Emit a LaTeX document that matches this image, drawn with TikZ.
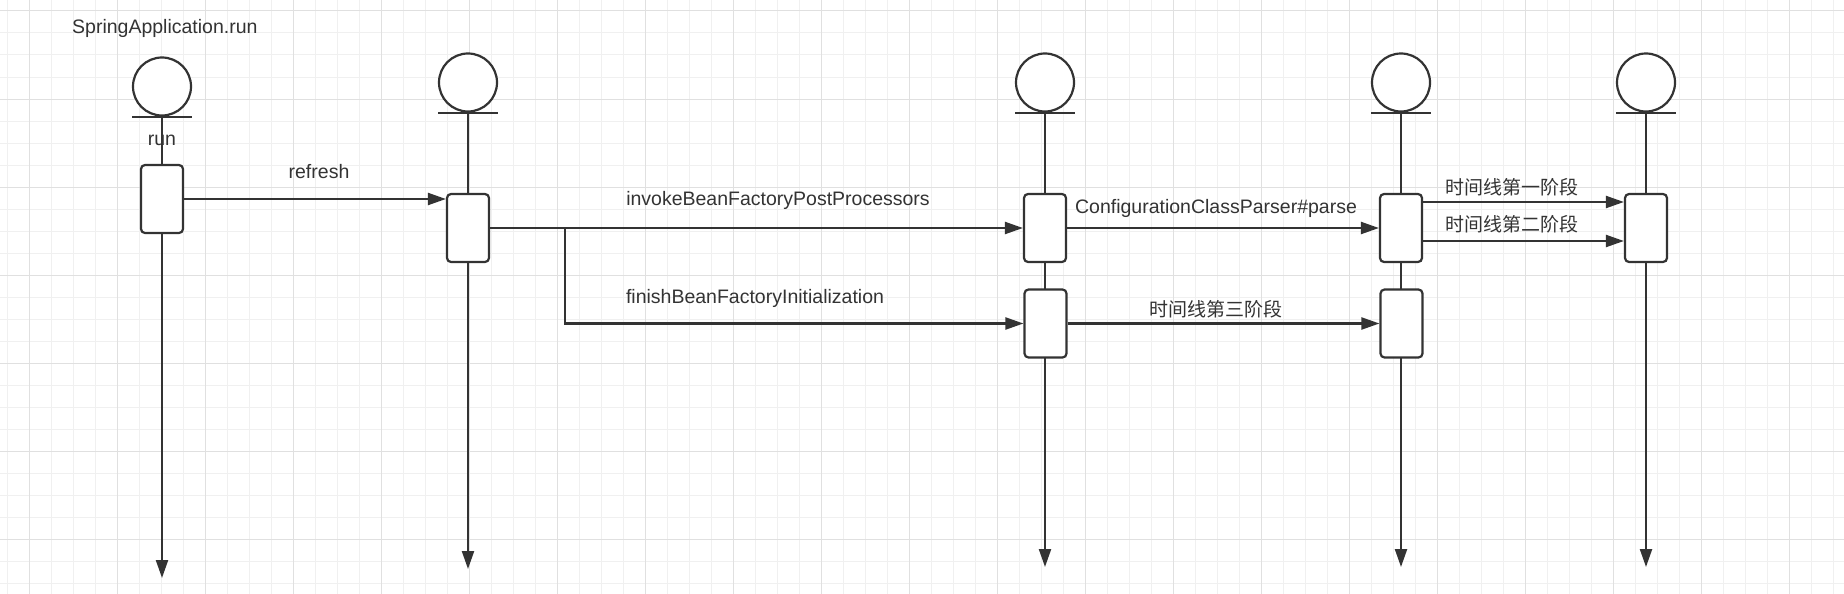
\documentclass[tikz,border=0pt]{standalone}
\usepackage{fontspec}
\setmainfont{Liberation Sans}
\newfontfamily\cjk{Noto Sans CJK SC}
\usetikzlibrary{arrows.meta,calc}
\definecolor{ink}{HTML}{333333}
\definecolor{gridminor}{HTML}{F0F0F0}
\definecolor{gridmajor}{HTML}{E0E0E0}
\begin{document}
\begin{tikzpicture}[x=1pt,y=-1pt,
  actor/.style={circle, draw=ink, line width=2.2pt, fill=white, minimum size=58pt, inner sep=0pt},
  actbox/.style={rectangle, rounded corners=4pt, draw=ink, line width=2.2pt, fill=white, minimum width=42pt, minimum height=68pt, inner sep=0pt},
  msg/.style={draw=ink, line width=2.2pt, -{Triangle[length=18pt,width=12pt]}},
  baseline/.style={draw=ink, line width=2.2pt},
  lbl/.style={text=ink, font=\fontsize{19.5}{23}\selectfont, inner sep=0pt},
  clbl/.style={text=ink, font=\cjk\fontsize{19}{23}\selectfont, inner sep=0pt}]
\useasboundingbox[fill=white] (0,0) rectangle (1844,594);
% grid
\foreach \i in {0,...,83} {\pgfmathsetmacro\xx{7.6+22*\i}\draw[gridminor, line width=1pt] (\xx,0) -- (\xx,594);}
\foreach \i in {0,...,26} {\pgfmathsetmacro\yy{11+22*\i}\draw[gridminor, line width=1pt] (0,\yy) -- (1844,\yy);}
\foreach \i in {0,...,20} {\pgfmathsetmacro\xx{29.6+88*\i}\draw[gridmajor, line width=1pt] (\xx,0) -- (\xx,594);}
\foreach \i in {0,...,6} {\pgfmathsetmacro\yy{11+88*\i}\draw[gridmajor, line width=1pt] (0,\yy) -- (1844,\yy);}

% title
\node[lbl, anchor=west] (title) at (72,28) {SpringApplication.run};

% actors
\node[actor] (a1) at (162,86.5) {};
\node[actor] (a2) at (468,82.5) {};
\node[actor] (a3) at (1045,82.5) {};
\node[actor] (a4) at (1401,82.5) {};
\node[actor] (a5) at (1646,82.5) {};
\foreach \a in {a1,a2,a3,a4,a5} {\draw[baseline] ([xshift=-30pt]\a.south) -- ([xshift=30pt]\a.south);}

% lifeline ends
\coordinate (t1) at (162,578);
\coordinate (t2) at (468,569);
\coordinate (t3) at (1045,567);
\coordinate (t4) at (1401,567);
\coordinate (t5) at (1646,567);
\draw[msg] (a1.south) -- (t1);
\draw[msg] (a2.south) -- (t2);
\draw[msg] (a3.south) -- (t3);
\draw[msg] (a4.south) -- (t4);
\draw[msg] (a5.south) -- (t5);

% activation boxes
\node[actbox] (b1) at (162,199) {};
\node[actbox] (b2) at (468,228) {};
\node[actbox] (b3a) at (1045,228) {};
\node[actbox] (b3b) at (1045.5,323.5) {};
\node[actbox] (b4a) at (1401,228) {};
\node[actbox] (b4b) at (1401.5,323.5) {};
\node[actbox] (b5) at (1646,228) {};

\node[lbl] (run) at (162,140) {run};

% messages
\draw[msg] (b1.east) -- (b1.east -| b2.west);
\node[lbl] (refresh) at (319,172) {refresh};

\draw[msg] (b2.east) -- (b3a.west);
\coordinate (br) at (565,228);
\draw[msg] (br) |- (b3b.west);
\node[lbl] (invoke) at (778,200) {invokeBeanFactoryPostProcessors};
\node[lbl] (finish) at (755,298) {finishBeanFactoryInitialization};

\draw[msg] (b3a.east) -- (b4a.west);
\node[lbl] (parse) at (1216,208) {ConfigurationClassParser\#parse};
\draw[msg] (b3b.east) -- (b4b.west);
\node[clbl] (p3) at (1216,309) {时间线第三阶段};

\draw[msg] ([yshift=26pt]b4a.east) -- ([yshift=26pt]b5.west);
\node[clbl] (p1) at (1512,187) {时间线第一阶段};
\draw[msg] ([yshift=-13pt]b4a.east) -- ([yshift=-13pt]b5.west);
\node[clbl] (p2) at (1512,224) {时间线第二阶段};
\end{tikzpicture}
\end{document}
